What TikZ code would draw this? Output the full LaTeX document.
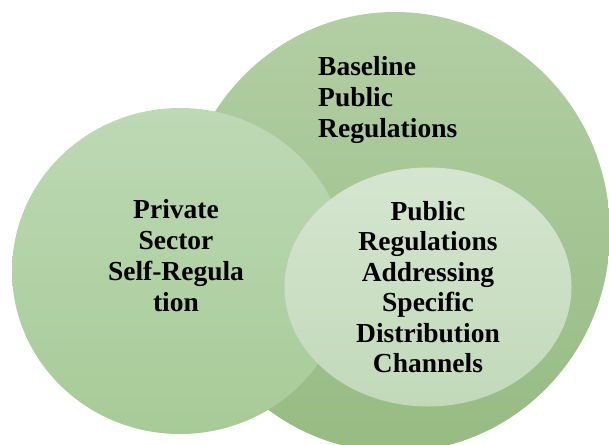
\documentclass[tikz,border=0pt]{standalone}
\usepackage{fontspec}
\setmainfont{Liberation Serif}
\usepackage{tikz}
\usetikzlibrary{positioning}
\definecolor{basetop}{HTML}{B2CFA3}
\definecolor{basebot}{HTML}{97BB83}
\definecolor{privtop}{HTML}{BDD9B5}
\definecolor{privbot}{HTML}{A7CB97}
\definecolor{chantop}{HTML}{D5E6D0}
\definecolor{chanbot}{HTML}{C2D9B9}

\begin{document}
\begin{tikzpicture}[x = 1pt, y = -1pt]
    \tikzset{lbl/.style={inner sep=0pt, font=\bfseries\fontsize{27.5}{31}\selectfont}}
    \useasboundingbox (0, 0) rectangle (609, 444);
    \clip (0, 0) rectangle (609, 444);
    % BASELINE REGULATIONS
    \shade[top color=basetop, bottom color=basebot] (395, 232) coordinate (B) ellipse (215 and 220);
    % PRIVATE SECTOR
    \shade[top color=privtop, bottom color=privbot] (180, 271) coordinate (P) ellipse (168 and 163);
    % DISTRIBUTION CHANNELS
    \shade[top color=chantop, bottom color=chanbot] (428, 287) coordinate (C) ellipse (143.5 and 119.5);
    % LABELS
    \node[lbl, anchor=west, align=left] (base) at (318, 100) {Baseline\\Public\\Regulations};
    \node[lbl, align=center] (priv) at (176, 256) {Private\\Sector\\Self-Regula\\tion};
    \node[lbl, align=center, font=\bfseries\fontsize{27.5}{30.4}\selectfont] (chan) at (C) {Public\\Regulations\\Addressing\\Specific\\Distribution\\Channels};
\end{tikzpicture}
\end{document}
